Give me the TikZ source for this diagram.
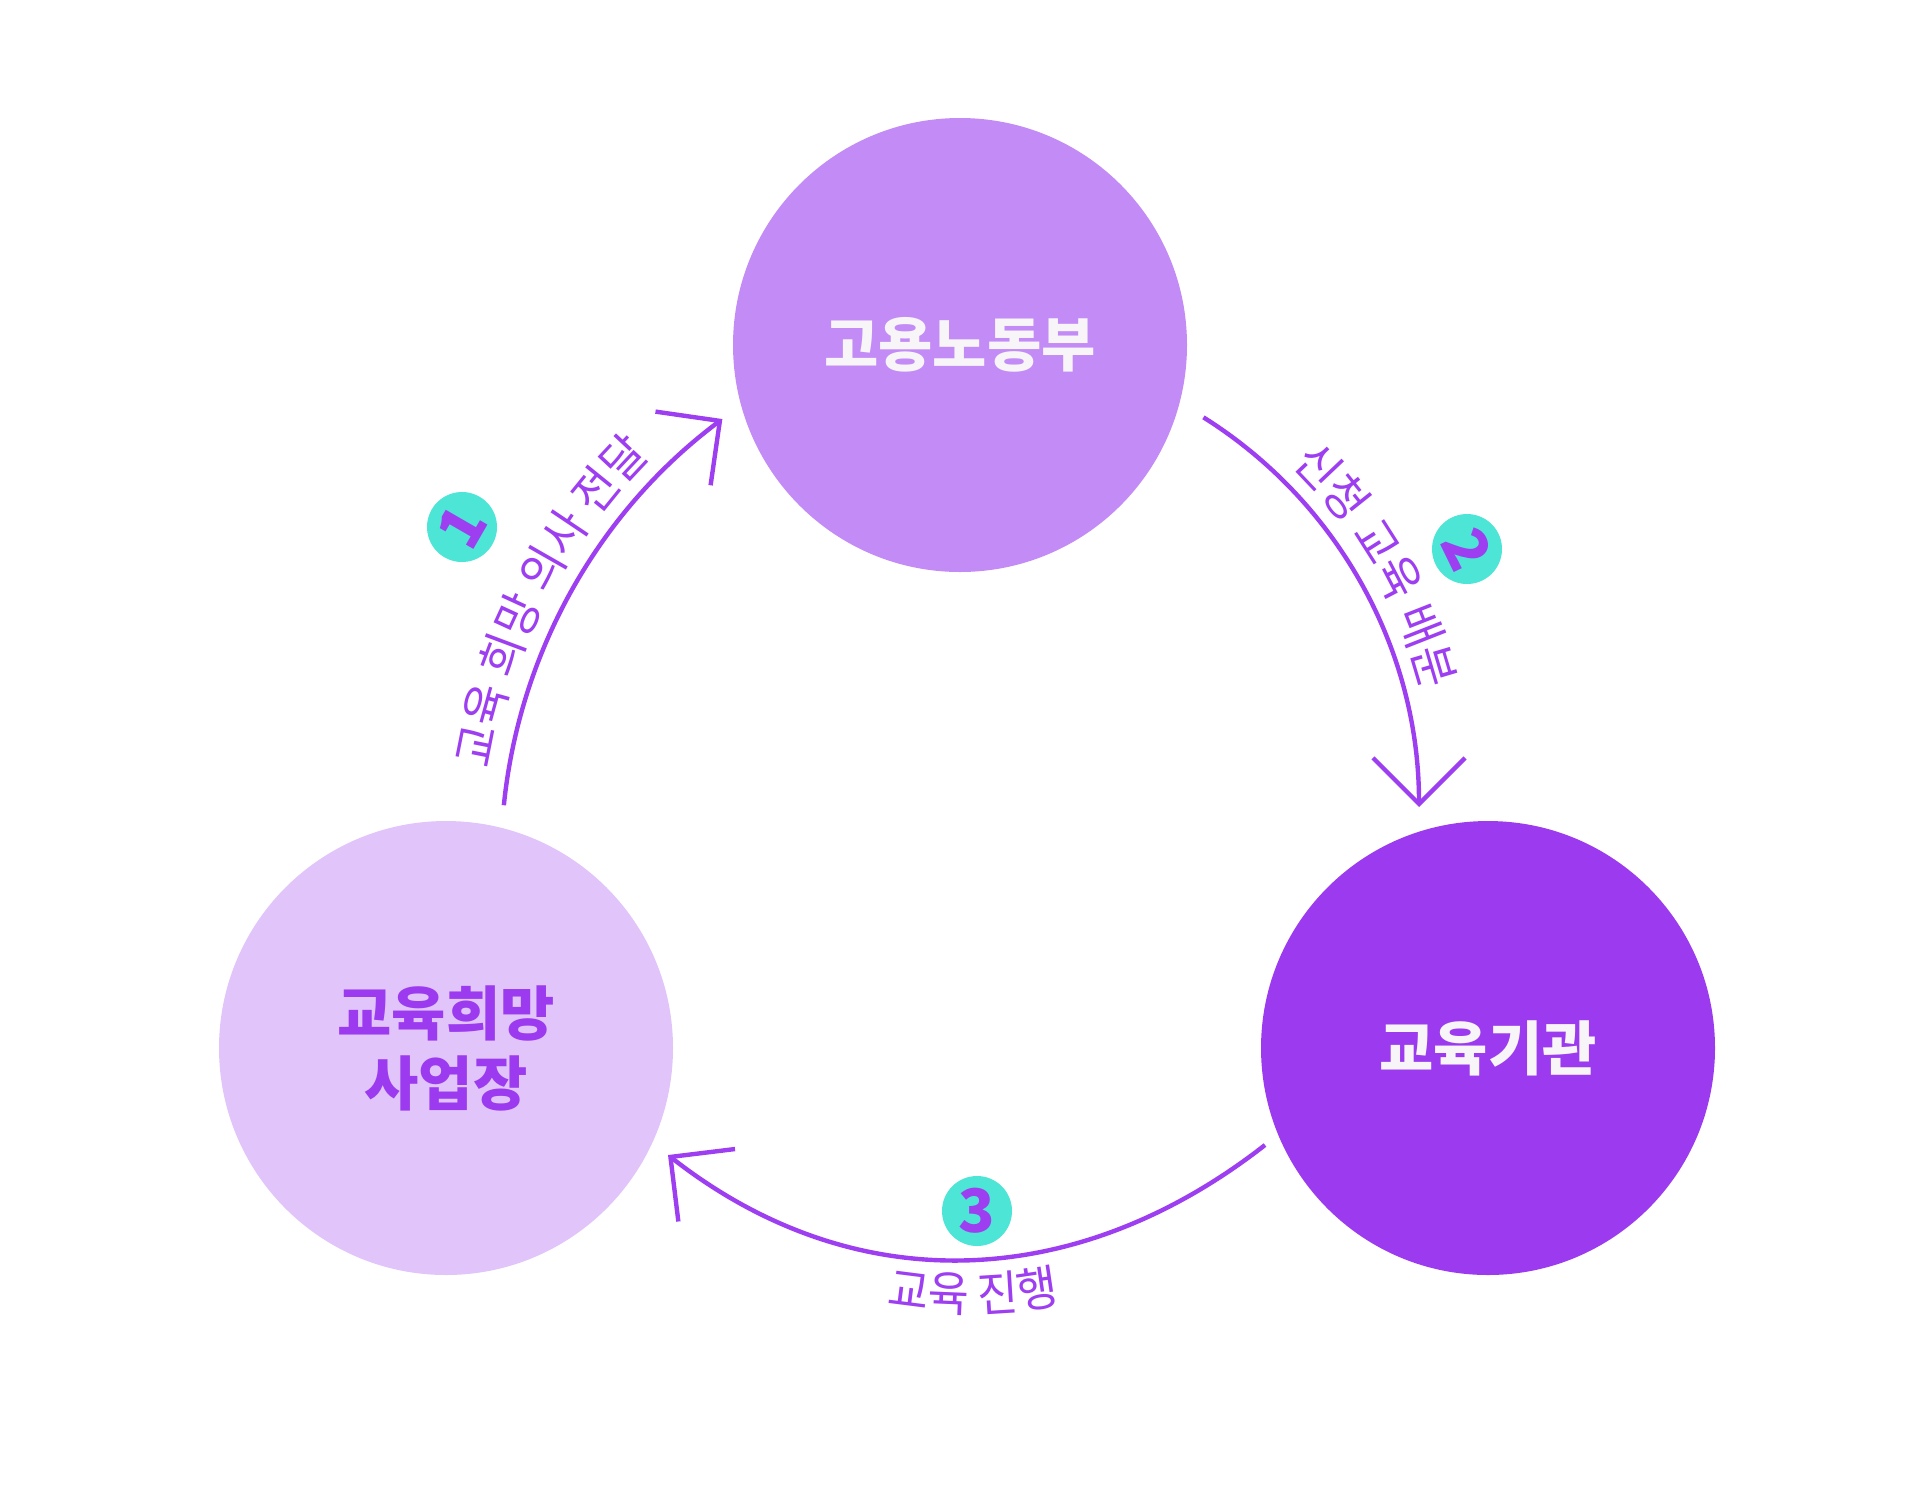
\documentclass[tikz,border=0pt]{standalone}
\usepackage{fontspec}
\setmainfont{Noto Sans CJK KR}
\newfontfamily\lblfam{Noto Sans CJK KR}[FakeStretch=0.93]
\usetikzlibrary{arrows.meta,decorations.text}
\definecolor{ctop}{HTML}{C38BF5}
\definecolor{cleft}{HTML}{E0C4FA}
\definecolor{cright}{HTML}{9B3AEE}
\definecolor{cline}{HTML}{9D3EF0}
\definecolor{cbadge}{HTML}{4DE5D5}
\definecolor{cwhite}{HTML}{F7F5F8}
\newcommand{\lblfont}{\lblfam\fontsize{24}{24}\selectfont}
\begin{document}
\begin{tikzpicture}[x=0.5pt,y=0.5pt,
  bigcirc/.style={circle,minimum size=227pt,inner sep=0pt,draw=none,
    font=\fontsize{29.5}{35}\selectfont\bfseries,align=center},
  flow/.style={draw=cline,line width=2.2pt,-{Straight Barb[length=23pt,width=46pt]}},
  badge/.style={circle,fill=cbadge,minimum size=35pt,inner sep=0pt,text=cline,
    font=\fontsize{30}{30}\selectfont\bfseries},
  arclabel/.style={decorate,decoration={text along path,text align=center,
    text color=cline,text={|\lblfont|#1}}}
]
\useasboundingbox (0,0) rectangle (1920,-1495);

% main circles
\node[bigcirc,fill=ctop,text=cwhite] (moel) at (960,-345) {고용노동부};
\node[bigcirc,fill=cleft,text=cright] (firm) at (446,-1048) {교육희망\\사업장};
\node[bigcirc,fill=cright,text=cwhite] (inst) at (1488,-1048) {교육기관};

% arc centres
\coordinate (k1) at (1053,-861);
\coordinate (k2) at (959,-807);
\coordinate (k3) at (968,-826);

% arrow ends (step 3)
\coordinate (a3s) at (1265,-1145);
\coordinate (a3e) at (668,-1155);

% arrows
\draw[flow] ([shift={(174.2:552)}]k1) coordinate (a1s)
  arc[start angle=174.2,end angle=126.8,radius=552] coordinate (a1e);
\draw[flow] ([shift={(57.9:460)}]k2) coordinate (a2s)
  arc[start angle=57.9,end angle=0,radius=460] coordinate (a2e);
\draw[flow] (a3s) .. controls (1077.5,-1291.6) and (855.5,-1301.6) .. (a3e);

% labels along arcs
\path[arclabel={교육 희망 의사 전달}] ([shift={(182.8:571)}]k1)
  arc[start angle=182.8,end angle=122.8,radius=571];
\path[arclabel={신청 교육 배분}] ([shift={(60:478)}]k2)
  arc[start angle=60,end angle=0,radius=478];
\path[arclabel={교육 진행}] ([shift={(-124.4:486)}]k3)
  arc[start angle=-124.4,end angle=-54.4,radius=486];

% badges
\node[badge,rotate=60] (b1) at (462,-527) {1};
\node[badge,rotate=-64] (b2) at (1467,-549) {2};
\node[badge] (b3) at (977,-1211) {3};
\end{tikzpicture}
\end{document}
